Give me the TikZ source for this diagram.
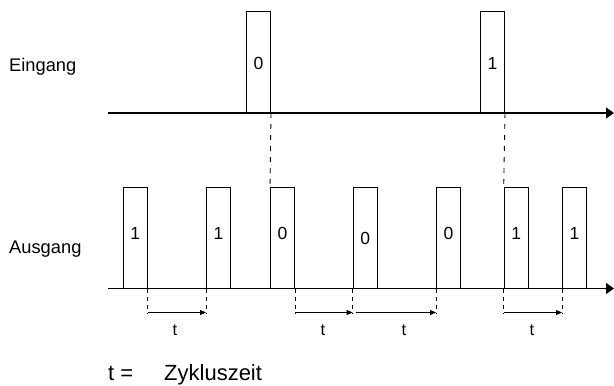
\documentclass[tikz,border=0pt]{standalone}
\usepackage{fontspec}
\setmainfont{Liberation Sans}
\usetikzlibrary{arrows.meta}
\begin{document}
\begin{tikzpicture}[x=1pt,y=-1pt,
  pulse/.style={draw, line width=1.0pt, minimum width=24pt, minimum height=101pt, inner sep=0pt, anchor=south west},
  axis/.style={line width=1.3pt, -{Triangle[length=8pt,width=11pt]}},
  guide/.style={line width=0.9pt, dash pattern=on 5pt off 6pt},
  tick/.style={line width=0.9pt, dash pattern=on 4pt off 4pt},
  span/.style={line width=0.9pt, -{Triangle[length=6pt,width=5pt]}},
  digit/.style={font=\fontsize{17.5}{19}\selectfont, anchor=base, inner sep=0pt},
  lbl/.style={font=\fontsize{18.3}{20}\selectfont, anchor=base west, inner sep=0pt},
  tlbl/.style={font=\fontsize{16.5}{18}\selectfont, anchor=base, inner sep=0pt},
  leg/.style={font=\fontsize{22}{24}\selectfont, anchor=base west, inner sep=0pt}]
\useasboundingbox (0,0) rectangle (614,386);
% labels
\node[lbl] (ein) at (9,71) {Eingang};
\node[lbl] (aus) at (9,253) {Ausgang};
% axes
\coordinate (a1s) at (108,113);
\coordinate (a1e) at (614,113);
\coordinate (a2s) at (108,288.5);
\coordinate (a2e) at (614,288.5);
% top pulses
\node[pulse] (t0) at (246,113) {};
\node[pulse] (t1) at (480,113) {};
\node[digit] (dt0) at ([yshift=-7.5pt]t0.center) {0};
\node[digit] (dt1) at ([yshift=-7.5pt]t1.center) {1};
% bottom pulses
\node[pulse] (b1) at (122.7,288.5) {};
\node[pulse] (b2) at (206,288.5) {};
\node[pulse] (b3) at (270,288.5) {};
\node[pulse] (b4) at (352.7,288.5) {};
\node[pulse] (b5) at (436,288.5) {};
\node[pulse] (b6) at (503.7,288.5) {};
\node[pulse] (b7) at (562,288.5) {};
\node[digit] (db1) at ([yshift=-1.5pt]b1.center) {1};
\node[digit] (db2) at ([yshift=-1.5pt]b2.center) {1};
\node[digit] (db3) at ([yshift=-1.5pt]b3.center) {0};
\node[digit] (db4) at ([yshift=-6.5pt]b4.center) {0};
\node[digit] (db5) at ([yshift=-1.5pt]b5.center) {0};
\node[digit] (db6) at ([yshift=-1.5pt]b6.center) {1};
\node[digit] (db7) at ([yshift=-1.5pt]b7.center) {1};
\draw[axis] (a1s) -- (a1e);
\draw[axis] (a2s) -- (a2e);
% guides from input to output
\draw[guide] (t0.south east) -- (b3.north west);
\draw[guide] (t1.south east) -- (b6.north west);
% ticks below output axis
\coordinate (k1) at ([yshift=-25pt]b1.south east);
\coordinate (k2) at ([yshift=-25pt]b2.south west);
\coordinate (k3) at ([yshift=-25pt]b3.south east);
\coordinate (k4) at ([yshift=-25pt]b4.south west);
\coordinate (k4b) at ([xshift=3pt,yshift=-25pt]b4.south west);
\coordinate (k5) at ([yshift=-25pt]b5.south west);
\coordinate (k6) at ([yshift=-25pt]b6.south west);
\coordinate (k7) at ([yshift=-25pt]b7.south west);
\draw[tick] (b1.south east) -- (k1);
\draw[tick] (b2.south west) -- (k2);
\draw[tick] (b3.south east) -- (k3);
\draw[tick] (b4.south west) -- (k4);
\draw[tick] (b5.south west) -- (k5);
\draw[tick] (b6.south west) -- (k6);
\draw[tick] (b7.south west) -- (k7);
\draw[span] ([yshift=1pt]k1) -- ([yshift=1pt]k2);
\draw[span] ([yshift=1pt]k3) -- ([yshift=1pt]k4);
\draw[span] ([yshift=1pt]k4b) -- ([yshift=1pt]k5);
\draw[span] ([yshift=1pt]k6) -- ([yshift=1pt]k7);
\node[tlbl] (tl1) at (175,335) {t};
\node[tlbl] (tl2) at (323,335) {t};
\node[tlbl] (tl3) at (404,335) {t};
\node[tlbl] (tl4) at (532,335) {t};
% legend
\node[leg] (leg1) at (108,380.5) {t =};
\node[leg] (leg2) at (164,380.5) {Zykluszeit};
\end{tikzpicture}
\end{document}
